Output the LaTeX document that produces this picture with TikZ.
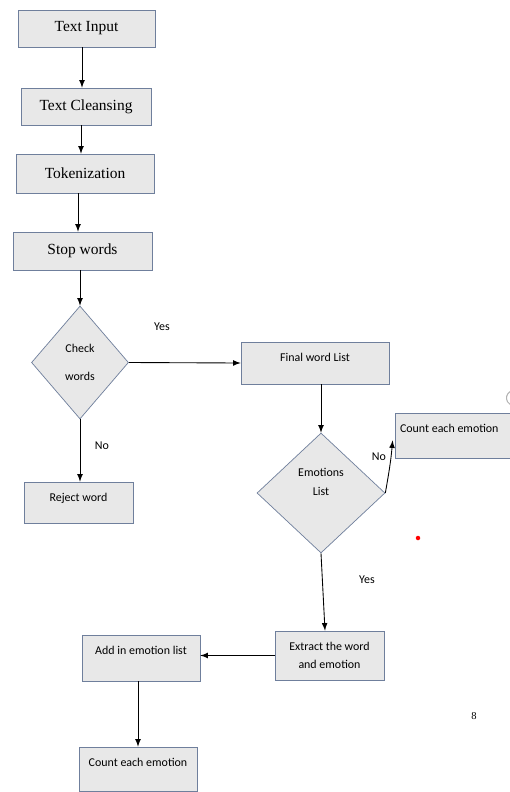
\documentclass[tikz,border=0pt]{standalone}
\usepackage{fontspec}
\setmainfont{Liberation Serif}
\newfontfamily\cali{Carlito}
\usetikzlibrary{shapes.geometric}
\usetikzlibrary{arrows}
\definecolor{boxfill}{HTML}{E8E8E8}
\definecolor{boxline}{HTML}{6F7F9C}

\begin{document}
\begin{tikzpicture}[x=0.02cm, y=-0.02cm,
                box/.style = {draw=boxline, fill=boxfill, rectangle, inner sep=0.1cm, font=\fontsize{8.8}{10}\selectfont},
                sbox/.style = {box, font=\cali\fontsize{6.8}{8}\selectfont},
                topbox/.style = {sbox, text height=0.29cm, text depth=#1},
                dia/.style = {draw=boxline, fill=boxfill, diamond, inner sep=0pt, align=center, font=\cali\fontsize{6.8}{8}\selectfont},
                lbl/.style = {font=\cali\fontsize{6.8}{8}\selectfont},
                arr/.style = {-latex, line width=0.5pt}
                ]
                \useasboundingbox (0,0) rectangle (510,792);
                \clip (0,0) rectangle (510,792);
                \fill[white] (0,0) rectangle (510,792);

                % left column
                \node[box, minimum width=2.74cm, minimum height=0.74cm] (input) at (86.5,28.5) {Text Input};
                \node[box, minimum width=2.6cm, minimum height=0.74cm] (cleansing) at (86,106.5) {Text Cleansing};
                \node[box, minimum width=2.76cm, minimum height=0.78cm] (token) at (85,173.5) {Tokenization};
                \node[box, minimum width=2.78cm, minimum height=0.76cm] (stop) at (82.5,251) {Stop words};
                \node[dia, minimum width=1.94cm, minimum height=2.26cm] (check) at (80,362.5) {Check\\[8pt]words};
                \node[topbox=0.33cm, minimum width=2.18cm, minimum height=0.82cm] (reject) at (78.5,502.5) {Reject word};

                % right side
                \node[topbox=0.35cm, minimum width=2.96cm, minimum height=0.84cm] (final) at (315,363) {Final word List};
                \node[dia, text depth=0.45cm, minimum width=2.56cm, minimum height=2.4cm] (emotions) at (321,493) {Emotions\\[2.5pt]List};
                \node[topbox=0.41cm, minimum width=2.7cm, minimum height=0.9cm, text width=2.5cm, align=flush left] (countr) at (462.5,435.5) {Count each emotion};
                \node[sbox, align=center, minimum width=2.18cm, minimum height=0.98cm] (extract) at (329.5,655.5) {Extract the word\\[2.5pt]and emotion};
                \node[topbox=0.43cm, minimum width=2.36cm, minimum height=0.92cm] (add) at (141,658) {Add in emotion list};
                \node[topbox=0.39cm, minimum width=2.36cm, minimum height=0.88cm] (countb) at (138,769) {Count each emotion};

                % connectors
                \draw[arr] ([xshift=-0.09cm]input.south) -- ([xshift=-0.09cm]input.south |- cleansing.north);
                \draw[arr] ([xshift=-0.1cm]cleansing.south) -- ([xshift=-0.1cm]cleansing.south |- token.north);
                \draw[arr] ([xshift=-0.14cm]token.south) -- ([xshift=-0.14cm]token.south |- stop.north);
                \draw[arr] (check.north |- stop.south) -- (check.north);
                \draw[arr] (check.east) -- (final.west);
                \draw[arr] (check.south) -- (check.south |- reject.north);
                \draw[arr] (emotions.north |- final.south) -- (emotions.north);
                \draw[arr] (emotions.east) to[out=80, in=-95] ([xshift=-0.04cm, yshift=0.36cm]countr.south west);
                \draw[arr] (emotions.south) -- ([xshift=-0.09cm]extract.north);
                \draw[arr] (extract.west) -- (extract.west -| add.east);
                \draw[arr] (countb.north |- add.south) -- (countb.north);

                % labels
                \node[lbl] (yes1) at (162,327) {Yes};
                \node[lbl] (no1) at (102,446) {No};
                \node[lbl] (no2) at (379,457) {No};
                \node[lbl] (yes2) at (367,580) {Yes};
                \node[font=\fontsize{6}{7}\selectfont] (page) at (474,716) {8};

                % marks at the edge
                \fill[red] (418,538) circle (0.045cm);
                \draw[gray!60, line width=0.6pt] (514,398) ++(120:0.15cm) arc[start angle=120, end angle=240, radius=0.15cm];
            \end{tikzpicture}
\end{document}
